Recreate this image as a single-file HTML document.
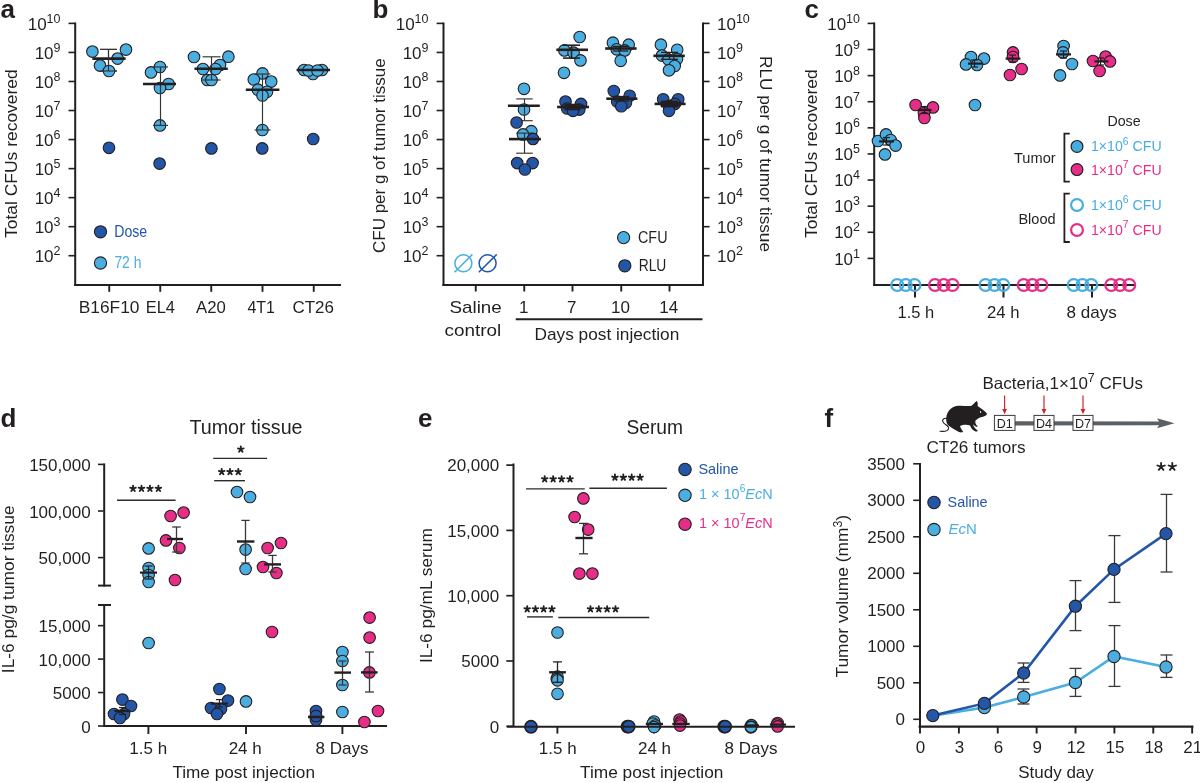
<!DOCTYPE html><html><head><meta charset="utf-8"><style>html,body{margin:0;padding:0;background:#fff;}svg{display:block;font-family:"Liberation Sans",sans-serif;will-change:transform;}</style></head><body>
<svg width="1200" height="783" viewBox="0 0 1200 783">
<rect width="1200" height="783" fill="#fff"/>
<text x="0.5" y="18.3" font-size="26" font-weight="bold" fill="#231f20">a</text>
<line x1="75.2" y1="22.4" x2="75.2" y2="286" stroke="#231f20" stroke-width="2"/>
<line x1="74.2" y1="285" x2="341" y2="285" stroke="#231f20" stroke-width="2.1"/>
<line x1="68.5" y1="255.72" x2="75.2" y2="255.72" stroke="#231f20" stroke-width="1.6"/>
<text x="60.5" y="261.92" font-size="17" text-anchor="end" fill="#231f20">10<tspan dy="-7" font-size="12.5">2</tspan></text>
<line x1="68.5" y1="226.68" x2="75.2" y2="226.68" stroke="#231f20" stroke-width="1.6"/>
<text x="60.5" y="232.88" font-size="17" text-anchor="end" fill="#231f20">10<tspan dy="-7" font-size="12.5">3</tspan></text>
<line x1="68.5" y1="197.64" x2="75.2" y2="197.64" stroke="#231f20" stroke-width="1.6"/>
<text x="60.5" y="203.84" font-size="17" text-anchor="end" fill="#231f20">10<tspan dy="-7" font-size="12.5">4</tspan></text>
<line x1="68.5" y1="168.6" x2="75.2" y2="168.6" stroke="#231f20" stroke-width="1.6"/>
<text x="60.5" y="174.8" font-size="17" text-anchor="end" fill="#231f20">10<tspan dy="-7" font-size="12.5">5</tspan></text>
<line x1="68.5" y1="139.56" x2="75.2" y2="139.56" stroke="#231f20" stroke-width="1.6"/>
<text x="60.5" y="145.76" font-size="17" text-anchor="end" fill="#231f20">10<tspan dy="-7" font-size="12.5">6</tspan></text>
<line x1="68.5" y1="110.52" x2="75.2" y2="110.52" stroke="#231f20" stroke-width="1.6"/>
<text x="60.5" y="116.72" font-size="17" text-anchor="end" fill="#231f20">10<tspan dy="-7" font-size="12.5">7</tspan></text>
<line x1="68.5" y1="81.48" x2="75.2" y2="81.48" stroke="#231f20" stroke-width="1.6"/>
<text x="60.5" y="87.68" font-size="17" text-anchor="end" fill="#231f20">10<tspan dy="-7" font-size="12.5">8</tspan></text>
<line x1="68.5" y1="52.44" x2="75.2" y2="52.44" stroke="#231f20" stroke-width="1.6"/>
<text x="60.5" y="58.64" font-size="17" text-anchor="end" fill="#231f20">10<tspan dy="-7" font-size="12.5">9</tspan></text>
<line x1="68.5" y1="23.4" x2="75.2" y2="23.4" stroke="#231f20" stroke-width="1.6"/>
<text x="60.5" y="29.6" font-size="17" text-anchor="end" fill="#231f20">10<tspan dy="-7" font-size="12.5">10</tspan></text>
<line x1="109.25" y1="285" x2="109.25" y2="291.8" stroke="#231f20" stroke-width="1.9"/>
<line x1="160.25" y1="285" x2="160.25" y2="291.8" stroke="#231f20" stroke-width="1.9"/>
<line x1="211.25" y1="285" x2="211.25" y2="291.8" stroke="#231f20" stroke-width="1.9"/>
<line x1="262.5" y1="285" x2="262.5" y2="291.8" stroke="#231f20" stroke-width="1.9"/>
<line x1="313.75" y1="285" x2="313.75" y2="291.8" stroke="#231f20" stroke-width="1.9"/>
<text x="78.75" y="312.6" font-size="17" fill="#231f20" textLength="60.75" lengthAdjust="spacingAndGlyphs" >B16F10</text>
<text x="145.75" y="312.6" font-size="17" fill="#231f20" textLength="29.25" lengthAdjust="spacingAndGlyphs" >EL4</text>
<text x="196" y="312.6" font-size="17" fill="#231f20" textLength="29.75" lengthAdjust="spacingAndGlyphs" >A20</text>
<text x="247.5" y="312.6" font-size="17" fill="#231f20" textLength="27.5" lengthAdjust="spacingAndGlyphs" >4T1</text>
<text x="292.5" y="312.6" font-size="17" fill="#231f20" textLength="41.5" lengthAdjust="spacingAndGlyphs" >CT26</text>
<text transform="translate(17.2,153.6) rotate(-90)" font-size="17" text-anchor="middle" fill="#231f20" textLength="168.7" lengthAdjust="spacingAndGlyphs">Total CFUs recovered</text>
<line x1="108.5" y1="49.4" x2="108.5" y2="71" stroke="#333" stroke-width="1.15"/>
<line x1="100" y1="49.4" x2="117" y2="49.4" stroke="#333" stroke-width="1.15"/>
<line x1="100" y1="71" x2="117" y2="71" stroke="#333" stroke-width="1.15"/>
<circle cx="92.4" cy="51.6" r="5.8" fill="#4aaee0" stroke="#231f20" stroke-width="1.1"/>
<circle cx="126" cy="49.6" r="5.8" fill="#4aaee0" stroke="#231f20" stroke-width="1.1"/>
<circle cx="100" cy="65.6" r="5.8" fill="#4aaee0" stroke="#231f20" stroke-width="1.1"/>
<circle cx="117.6" cy="58.6" r="5.8" fill="#4aaee0" stroke="#231f20" stroke-width="1.1"/>
<circle cx="109" cy="71" r="5.8" fill="#4aaee0" stroke="#231f20" stroke-width="1.1"/>
<line x1="92.4" y1="58.6" x2="125.6" y2="58.6" stroke="#231f20" stroke-width="2.6"/>
<line x1="108.5" y1="49.4" x2="108.5" y2="71" stroke="#333" stroke-width="1.15"/>
<line x1="100" y1="49.4" x2="117" y2="49.4" stroke="#333" stroke-width="1.15"/>
<line x1="100" y1="71" x2="117" y2="71" stroke="#333" stroke-width="1.15"/>
<circle cx="109" cy="147.8" r="5.8" fill="#2356a7" stroke="#231f20" stroke-width="1.1"/>
<circle cx="151" cy="72.4" r="5.8" fill="#4aaee0" stroke="#231f20" stroke-width="1.1"/>
<circle cx="160" cy="67" r="5.8" fill="#4aaee0" stroke="#231f20" stroke-width="1.1"/>
<circle cx="168.6" cy="84" r="5.8" fill="#4aaee0" stroke="#231f20" stroke-width="1.1"/>
<circle cx="160" cy="88" r="5.8" fill="#4aaee0" stroke="#231f20" stroke-width="1.1"/>
<circle cx="160" cy="125.4" r="5.8" fill="#4aaee0" stroke="#231f20" stroke-width="1.1"/>
<line x1="160.5" y1="67" x2="160.5" y2="125.4" stroke="#333" stroke-width="1.15"/>
<line x1="153" y1="67" x2="168" y2="67" stroke="#333" stroke-width="1.15"/>
<line x1="153" y1="125.4" x2="168" y2="125.4" stroke="#333" stroke-width="1.15"/>
<line x1="143" y1="84" x2="176" y2="84" stroke="#231f20" stroke-width="2.6"/>
<circle cx="159.6" cy="163.6" r="5.8" fill="#2356a7" stroke="#231f20" stroke-width="1.1"/>
<circle cx="194" cy="57" r="5.8" fill="#4aaee0" stroke="#231f20" stroke-width="1.1"/>
<circle cx="228.4" cy="56.7" r="5.8" fill="#4aaee0" stroke="#231f20" stroke-width="1.1"/>
<circle cx="203" cy="69" r="5.8" fill="#4aaee0" stroke="#231f20" stroke-width="1.1"/>
<circle cx="220" cy="65" r="5.8" fill="#4aaee0" stroke="#231f20" stroke-width="1.1"/>
<circle cx="215.5" cy="69" r="5.8" fill="#4aaee0" stroke="#231f20" stroke-width="1.1"/>
<circle cx="207.3" cy="80" r="5.8" fill="#4aaee0" stroke="#231f20" stroke-width="1.1"/>
<circle cx="211.5" cy="80" r="5.8" fill="#4aaee0" stroke="#231f20" stroke-width="1.1"/>
<line x1="211.5" y1="56.8" x2="211.5" y2="80" stroke="#333" stroke-width="1.15"/>
<line x1="202.5" y1="56.8" x2="220.5" y2="56.8" stroke="#333" stroke-width="1.15"/>
<line x1="202.5" y1="80" x2="220.5" y2="80" stroke="#333" stroke-width="1.15"/>
<line x1="194.5" y1="68.8" x2="227.8" y2="68.8" stroke="#231f20" stroke-width="2.6"/>
<circle cx="211.4" cy="148.4" r="5.8" fill="#2356a7" stroke="#231f20" stroke-width="1.1"/>
<circle cx="262.5" cy="73.4" r="5.8" fill="#4aaee0" stroke="#231f20" stroke-width="1.1"/>
<circle cx="253.8" cy="79.5" r="5.8" fill="#4aaee0" stroke="#231f20" stroke-width="1.1"/>
<circle cx="271.2" cy="81.6" r="5.8" fill="#4aaee0" stroke="#231f20" stroke-width="1.1"/>
<circle cx="257.9" cy="89.7" r="5.8" fill="#4aaee0" stroke="#231f20" stroke-width="1.1"/>
<circle cx="267" cy="91.8" r="5.8" fill="#4aaee0" stroke="#231f20" stroke-width="1.1"/>
<circle cx="262.5" cy="95.5" r="5.8" fill="#4aaee0" stroke="#231f20" stroke-width="1.1"/>
<circle cx="262.4" cy="130" r="5.8" fill="#4aaee0" stroke="#231f20" stroke-width="1.1"/>
<line x1="262.5" y1="74" x2="262.5" y2="130" stroke="#333" stroke-width="1.15"/>
<line x1="254.5" y1="74" x2="270.5" y2="74" stroke="#333" stroke-width="1.15"/>
<line x1="254.5" y1="130" x2="270.5" y2="130" stroke="#333" stroke-width="1.15"/>
<line x1="245.8" y1="89.8" x2="279.4" y2="89.8" stroke="#231f20" stroke-width="2.6"/>
<circle cx="262.2" cy="148.4" r="5.8" fill="#2356a7" stroke="#231f20" stroke-width="1.1"/>
<circle cx="304" cy="70" r="5.8" fill="#4aaee0" stroke="#231f20" stroke-width="1.1"/>
<circle cx="322" cy="70" r="5.8" fill="#4aaee0" stroke="#231f20" stroke-width="1.1"/>
<circle cx="313" cy="74" r="5.8" fill="#4aaee0" stroke="#231f20" stroke-width="1.1"/>
<circle cx="308.5" cy="70.5" r="5.8" fill="#4aaee0" stroke="#231f20" stroke-width="1.1"/>
<circle cx="317.5" cy="70.5" r="5.8" fill="#4aaee0" stroke="#231f20" stroke-width="1.1"/>
<line x1="296.6" y1="70" x2="330" y2="70" stroke="#231f20" stroke-width="2.6"/>
<circle cx="313.2" cy="139" r="5.8" fill="#2356a7" stroke="#231f20" stroke-width="1.1"/>
<circle cx="100.5" cy="231.8" r="6.1" fill="#2356a7" stroke="#231f20" stroke-width="1.1"/>
<text x="114.2" y="237" font-size="16" fill="#2356a7" textLength="33" lengthAdjust="spacingAndGlyphs" >Dose</text>
<circle cx="100.5" cy="263" r="6.1" fill="#4aaee0" stroke="#231f20" stroke-width="1.1"/>
<text x="114.4" y="267.8" font-size="16" fill="#4aaee0" textLength="27" lengthAdjust="spacingAndGlyphs" >72 h</text>
<text x="372.5" y="18.3" font-size="26" font-weight="bold" fill="#231f20">b</text>
<line x1="443.5" y1="22.4" x2="443.5" y2="286" stroke="#231f20" stroke-width="2"/>
<line x1="442.5" y1="285" x2="704" y2="285" stroke="#231f20" stroke-width="2.1"/>
<line x1="703" y1="22.4" x2="703" y2="286" stroke="#231f20" stroke-width="2"/>
<line x1="436.6" y1="255.72" x2="443.5" y2="255.72" stroke="#231f20" stroke-width="1.6"/>
<line x1="703" y1="255.72" x2="709.6" y2="255.72" stroke="#231f20" stroke-width="1.6"/>
<text x="428.5" y="261.92" font-size="17" text-anchor="end" fill="#231f20">10<tspan dy="-7" font-size="12.5">2</tspan></text>
<text x="717" y="261.92" font-size="17" text-anchor="start" fill="#231f20">10<tspan dy="-7" font-size="12.5">2</tspan></text>
<line x1="436.6" y1="226.68" x2="443.5" y2="226.68" stroke="#231f20" stroke-width="1.6"/>
<line x1="703" y1="226.68" x2="709.6" y2="226.68" stroke="#231f20" stroke-width="1.6"/>
<text x="428.5" y="232.88" font-size="17" text-anchor="end" fill="#231f20">10<tspan dy="-7" font-size="12.5">3</tspan></text>
<text x="717" y="232.88" font-size="17" text-anchor="start" fill="#231f20">10<tspan dy="-7" font-size="12.5">3</tspan></text>
<line x1="436.6" y1="197.64" x2="443.5" y2="197.64" stroke="#231f20" stroke-width="1.6"/>
<line x1="703" y1="197.64" x2="709.6" y2="197.64" stroke="#231f20" stroke-width="1.6"/>
<text x="428.5" y="203.84" font-size="17" text-anchor="end" fill="#231f20">10<tspan dy="-7" font-size="12.5">4</tspan></text>
<text x="717" y="203.84" font-size="17" text-anchor="start" fill="#231f20">10<tspan dy="-7" font-size="12.5">4</tspan></text>
<line x1="436.6" y1="168.6" x2="443.5" y2="168.6" stroke="#231f20" stroke-width="1.6"/>
<line x1="703" y1="168.6" x2="709.6" y2="168.6" stroke="#231f20" stroke-width="1.6"/>
<text x="428.5" y="174.8" font-size="17" text-anchor="end" fill="#231f20">10<tspan dy="-7" font-size="12.5">5</tspan></text>
<text x="717" y="174.8" font-size="17" text-anchor="start" fill="#231f20">10<tspan dy="-7" font-size="12.5">5</tspan></text>
<line x1="436.6" y1="139.56" x2="443.5" y2="139.56" stroke="#231f20" stroke-width="1.6"/>
<line x1="703" y1="139.56" x2="709.6" y2="139.56" stroke="#231f20" stroke-width="1.6"/>
<text x="428.5" y="145.76" font-size="17" text-anchor="end" fill="#231f20">10<tspan dy="-7" font-size="12.5">6</tspan></text>
<text x="717" y="145.76" font-size="17" text-anchor="start" fill="#231f20">10<tspan dy="-7" font-size="12.5">6</tspan></text>
<line x1="436.6" y1="110.52" x2="443.5" y2="110.52" stroke="#231f20" stroke-width="1.6"/>
<line x1="703" y1="110.52" x2="709.6" y2="110.52" stroke="#231f20" stroke-width="1.6"/>
<text x="428.5" y="116.72" font-size="17" text-anchor="end" fill="#231f20">10<tspan dy="-7" font-size="12.5">7</tspan></text>
<text x="717" y="116.72" font-size="17" text-anchor="start" fill="#231f20">10<tspan dy="-7" font-size="12.5">7</tspan></text>
<line x1="436.6" y1="81.48" x2="443.5" y2="81.48" stroke="#231f20" stroke-width="1.6"/>
<line x1="703" y1="81.48" x2="709.6" y2="81.48" stroke="#231f20" stroke-width="1.6"/>
<text x="428.5" y="87.68" font-size="17" text-anchor="end" fill="#231f20">10<tspan dy="-7" font-size="12.5">8</tspan></text>
<text x="717" y="87.68" font-size="17" text-anchor="start" fill="#231f20">10<tspan dy="-7" font-size="12.5">8</tspan></text>
<line x1="436.6" y1="52.44" x2="443.5" y2="52.44" stroke="#231f20" stroke-width="1.6"/>
<line x1="703" y1="52.44" x2="709.6" y2="52.44" stroke="#231f20" stroke-width="1.6"/>
<text x="428.5" y="58.64" font-size="17" text-anchor="end" fill="#231f20">10<tspan dy="-7" font-size="12.5">9</tspan></text>
<text x="717" y="58.64" font-size="17" text-anchor="start" fill="#231f20">10<tspan dy="-7" font-size="12.5">9</tspan></text>
<line x1="436.6" y1="23.4" x2="443.5" y2="23.4" stroke="#231f20" stroke-width="1.6"/>
<line x1="703" y1="23.4" x2="709.6" y2="23.4" stroke="#231f20" stroke-width="1.6"/>
<text x="428.5" y="29.6" font-size="17" text-anchor="end" fill="#231f20">10<tspan dy="-7" font-size="12.5">10</tspan></text>
<text x="717" y="29.6" font-size="17" text-anchor="start" fill="#231f20">10<tspan dy="-7" font-size="12.5">10</tspan></text>
<line x1="475.75" y1="285" x2="475.75" y2="291.5" stroke="#231f20" stroke-width="1.9"/>
<line x1="524.25" y1="285" x2="524.25" y2="291.5" stroke="#231f20" stroke-width="1.9"/>
<line x1="572.5" y1="285" x2="572.5" y2="291.5" stroke="#231f20" stroke-width="1.9"/>
<line x1="621.25" y1="285" x2="621.25" y2="291.5" stroke="#231f20" stroke-width="1.9"/>
<line x1="669.5" y1="285" x2="669.5" y2="291.5" stroke="#231f20" stroke-width="1.9"/>
<text x="449.5" y="313" font-size="17" fill="#231f20" textLength="52.25" lengthAdjust="spacingAndGlyphs" >Saline</text>
<text x="444.5" y="336.3" font-size="17" fill="#231f20" textLength="56.75" lengthAdjust="spacingAndGlyphs" >control</text>
<text x="523.75" y="313" font-size="17" text-anchor="middle" fill="#231f20" >1</text>
<text x="571.75" y="313" font-size="17" text-anchor="middle" fill="#231f20" >7</text>
<text x="620.5" y="313" font-size="17" text-anchor="middle" fill="#231f20" >10</text>
<text x="668.75" y="313" font-size="17" text-anchor="middle" fill="#231f20" >14</text>
<line x1="515.75" y1="319.25" x2="702.5" y2="319.25" stroke="#231f20" stroke-width="2"/>
<text x="534.5" y="339.5" font-size="17" fill="#231f20" textLength="144.75" lengthAdjust="spacingAndGlyphs" >Days post injection</text>
<text transform="translate(384.6,155.7) rotate(-90)" font-size="17" text-anchor="middle" fill="#231f20" textLength="194.6" lengthAdjust="spacingAndGlyphs">CFU per g of tumor tissue</text>
<text transform="translate(759.8,154) rotate(90)" font-size="17" text-anchor="middle" fill="#231f20" textLength="196" lengthAdjust="spacingAndGlyphs">RLU per g of tumor tissue</text>
<circle cx="463.4" cy="263.3" r="8.5" fill="none" stroke="#4aaee0" stroke-width="1.5"/>
<line x1="454.5" y1="272.3" x2="472.4" y2="254.4" stroke="#4aaee0" stroke-width="1.5"/>
<circle cx="487.6" cy="263.3" r="8.5" fill="none" stroke="#2356a7" stroke-width="1.5"/>
<line x1="478.8" y1="272.3" x2="496.7" y2="254.4" stroke="#2356a7" stroke-width="1.5"/>
<circle cx="524" cy="88.8" r="5.8" fill="#4aaee0" stroke="#231f20" stroke-width="1.1"/>
<circle cx="524" cy="109.5" r="5.8" fill="#4aaee0" stroke="#231f20" stroke-width="1.1"/>
<line x1="524.5" y1="98.9" x2="524.5" y2="120.7" stroke="#333" stroke-width="1.15"/>
<line x1="516.3" y1="98.9" x2="532.7" y2="98.9" stroke="#333" stroke-width="1.15"/>
<line x1="516.3" y1="120.7" x2="532.7" y2="120.7" stroke="#333" stroke-width="1.15"/>
<line x1="507.9" y1="105.7" x2="539.8" y2="105.7" stroke="#231f20" stroke-width="2.6"/>
<circle cx="516.6" cy="122.5" r="5.8" fill="#2356a7" stroke="#231f20" stroke-width="1.1"/>
<circle cx="531.3" cy="131.2" r="5.8" fill="#4aaee0" stroke="#231f20" stroke-width="1.1"/>
<circle cx="523" cy="134.4" r="5.8" fill="#4aaee0" stroke="#231f20" stroke-width="1.1"/>
<line x1="524.5" y1="133.1" x2="524.5" y2="153.2" stroke="#333" stroke-width="1.15"/>
<line x1="516.2" y1="133.1" x2="532.8" y2="133.1" stroke="#333" stroke-width="1.15"/>
<line x1="516.2" y1="153.2" x2="532.8" y2="153.2" stroke="#333" stroke-width="1.15"/>
<circle cx="533" cy="138.9" r="5.8" fill="#2356a7" stroke="#231f20" stroke-width="1.1"/>
<line x1="509" y1="139.1" x2="540.9" y2="139.1" stroke="#231f20" stroke-width="2.6"/>
<circle cx="517.2" cy="163.1" r="5.8" fill="#2356a7" stroke="#231f20" stroke-width="1.1"/>
<circle cx="532.6" cy="163.1" r="5.8" fill="#2356a7" stroke="#231f20" stroke-width="1.1"/>
<circle cx="524.9" cy="169.5" r="5.8" fill="#2356a7" stroke="#231f20" stroke-width="1.1"/>
<circle cx="579.7" cy="37" r="5.8" fill="#4aaee0" stroke="#231f20" stroke-width="1.1"/>
<circle cx="564.4" cy="50.4" r="5.8" fill="#4aaee0" stroke="#231f20" stroke-width="1.1"/>
<circle cx="573.6" cy="52.7" r="5.8" fill="#4aaee0" stroke="#231f20" stroke-width="1.1"/>
<circle cx="580.5" cy="60.4" r="5.8" fill="#4aaee0" stroke="#231f20" stroke-width="1.1"/>
<circle cx="564" cy="72.8" r="5.8" fill="#4aaee0" stroke="#231f20" stroke-width="1.1"/>
<line x1="571.5" y1="45.2" x2="571.5" y2="58.1" stroke="#231f20" stroke-width="1.6"/>
<line x1="563" y1="45.2" x2="580" y2="45.2" stroke="#231f20" stroke-width="1.6"/>
<line x1="563" y1="58.1" x2="580" y2="58.1" stroke="#231f20" stroke-width="1.6"/>
<line x1="556.3" y1="49.8" x2="588" y2="49.8" stroke="#231f20" stroke-width="2.6"/>
<circle cx="565.5" cy="101.6" r="5.8" fill="#2356a7" stroke="#231f20" stroke-width="1.1"/>
<circle cx="581" cy="103.9" r="5.8" fill="#2356a7" stroke="#231f20" stroke-width="1.1"/>
<circle cx="567.2" cy="108.5" r="5.8" fill="#2356a7" stroke="#231f20" stroke-width="1.1"/>
<circle cx="579.3" cy="109.6" r="5.8" fill="#2356a7" stroke="#231f20" stroke-width="1.1"/>
<circle cx="573" cy="110.8" r="5.8" fill="#2356a7" stroke="#231f20" stroke-width="1.1"/>
<line x1="572.5" y1="104.5" x2="572.5" y2="109.5" stroke="#231f20" stroke-width="1.6"/>
<line x1="564.5" y1="104.5" x2="580.5" y2="104.5" stroke="#231f20" stroke-width="1.6"/>
<line x1="564.5" y1="109.5" x2="580.5" y2="109.5" stroke="#231f20" stroke-width="1.6"/>
<rect x="563.5" y="105.3" width="21" height="3.4" fill="#231f20"/>
<line x1="557.1" y1="107" x2="589" y2="107" stroke="#231f20" stroke-width="2.6"/>
<circle cx="612.9" cy="42.7" r="5.8" fill="#4aaee0" stroke="#231f20" stroke-width="1.1"/>
<circle cx="628.7" cy="44.7" r="5.8" fill="#4aaee0" stroke="#231f20" stroke-width="1.1"/>
<circle cx="616.7" cy="49.3" r="5.8" fill="#4aaee0" stroke="#231f20" stroke-width="1.1"/>
<circle cx="624.7" cy="50.4" r="5.8" fill="#4aaee0" stroke="#231f20" stroke-width="1.1"/>
<circle cx="620.7" cy="60.8" r="5.8" fill="#4aaee0" stroke="#231f20" stroke-width="1.1"/>
<line x1="620.5" y1="46.4" x2="620.5" y2="51" stroke="#231f20" stroke-width="1.3"/>
<line x1="612.7" y1="46.4" x2="628.3" y2="46.4" stroke="#231f20" stroke-width="1.3"/>
<line x1="612.7" y1="51" x2="628.3" y2="51" stroke="#231f20" stroke-width="1.3"/>
<line x1="605.2" y1="48.5" x2="636.6" y2="48.5" stroke="#231f20" stroke-width="2.6"/>
<circle cx="613.8" cy="91" r="5.8" fill="#2356a7" stroke="#231f20" stroke-width="1.1"/>
<circle cx="629.7" cy="95.8" r="5.8" fill="#2356a7" stroke="#231f20" stroke-width="1.1"/>
<circle cx="617.2" cy="101.6" r="5.8" fill="#2356a7" stroke="#231f20" stroke-width="1.1"/>
<circle cx="625.9" cy="102.7" r="5.8" fill="#2356a7" stroke="#231f20" stroke-width="1.1"/>
<circle cx="621.3" cy="106.2" r="5.8" fill="#2356a7" stroke="#231f20" stroke-width="1.1"/>
<line x1="621.5" y1="96.5" x2="621.5" y2="101" stroke="#231f20" stroke-width="1.3"/>
<line x1="613.7" y1="96.5" x2="629.3" y2="96.5" stroke="#231f20" stroke-width="1.3"/>
<line x1="613.7" y1="101" x2="629.3" y2="101" stroke="#231f20" stroke-width="1.3"/>
<line x1="606.3" y1="98.7" x2="637.4" y2="98.7" stroke="#231f20" stroke-width="2.6"/>
<circle cx="660.9" cy="44.7" r="5.8" fill="#4aaee0" stroke="#231f20" stroke-width="1.1"/>
<circle cx="677.2" cy="49.8" r="5.8" fill="#4aaee0" stroke="#231f20" stroke-width="1.1"/>
<circle cx="662" cy="55.6" r="5.8" fill="#4aaee0" stroke="#231f20" stroke-width="1.1"/>
<circle cx="677" cy="59" r="5.8" fill="#4aaee0" stroke="#231f20" stroke-width="1.1"/>
<circle cx="668.4" cy="59.6" r="5.8" fill="#4aaee0" stroke="#231f20" stroke-width="1.1"/>
<circle cx="674.7" cy="66" r="5.8" fill="#4aaee0" stroke="#231f20" stroke-width="1.1"/>
<circle cx="669" cy="70.3" r="5.8" fill="#4aaee0" stroke="#231f20" stroke-width="1.1"/>
<line x1="669.5" y1="52.4" x2="669.5" y2="59.3" stroke="#231f20" stroke-width="1.3"/>
<line x1="661" y1="52.4" x2="678" y2="52.4" stroke="#231f20" stroke-width="1.3"/>
<line x1="661" y1="59.3" x2="678" y2="59.3" stroke="#231f20" stroke-width="1.3"/>
<line x1="653.4" y1="55.8" x2="684.8" y2="55.8" stroke="#231f20" stroke-width="2.6"/>
<circle cx="663.2" cy="99.3" r="5.8" fill="#2356a7" stroke="#231f20" stroke-width="1.1"/>
<circle cx="678.2" cy="99.3" r="5.8" fill="#2356a7" stroke="#231f20" stroke-width="1.1"/>
<circle cx="674.7" cy="103.9" r="5.8" fill="#2356a7" stroke="#231f20" stroke-width="1.1"/>
<circle cx="669" cy="106.2" r="5.8" fill="#2356a7" stroke="#231f20" stroke-width="1.1"/>
<circle cx="669" cy="110.8" r="5.8" fill="#2356a7" stroke="#231f20" stroke-width="1.1"/>
<line x1="669.5" y1="101.5" x2="669.5" y2="106.5" stroke="#231f20" stroke-width="1.8"/>
<line x1="661" y1="101.5" x2="678" y2="101.5" stroke="#231f20" stroke-width="1.8"/>
<line x1="661" y1="106.5" x2="678" y2="106.5" stroke="#231f20" stroke-width="1.8"/>
<rect x="660.5" y="101.8" width="20.5" height="4.6" fill="#231f20"/>
<line x1="654.6" y1="103.9" x2="685.6" y2="103.9" stroke="#231f20" stroke-width="2.6"/>
<circle cx="623.6" cy="237.6" r="6.1" fill="#4aaee0" stroke="#231f20" stroke-width="1.1"/>
<text x="638" y="242.6" font-size="16" fill="#231f20" textLength="29.5" lengthAdjust="spacingAndGlyphs" >CFU</text>
<circle cx="624.8" cy="265.8" r="6.1" fill="#2356a7" stroke="#231f20" stroke-width="1.1"/>
<text x="638.7" y="270.8" font-size="16" fill="#231f20" textLength="27.6" lengthAdjust="spacingAndGlyphs" >RLU</text>
<text x="804.5" y="18.3" font-size="26" font-weight="bold" fill="#231f20">c</text>
<line x1="874.2" y1="22.4" x2="874.2" y2="286" stroke="#231f20" stroke-width="2"/>
<line x1="873.2" y1="285" x2="1135" y2="285" stroke="#231f20" stroke-width="2.1"/>
<line x1="867.6" y1="258.39" x2="874.2" y2="258.39" stroke="#231f20" stroke-width="1.6"/>
<text x="860" y="264.59" font-size="17" text-anchor="end" fill="#231f20">10<tspan dy="-7" font-size="12.5">1</tspan></text>
<line x1="867.6" y1="232.28" x2="874.2" y2="232.28" stroke="#231f20" stroke-width="1.6"/>
<text x="860" y="238.48" font-size="17" text-anchor="end" fill="#231f20">10<tspan dy="-7" font-size="12.5">2</tspan></text>
<line x1="867.6" y1="206.17" x2="874.2" y2="206.17" stroke="#231f20" stroke-width="1.6"/>
<text x="860" y="212.37" font-size="17" text-anchor="end" fill="#231f20">10<tspan dy="-7" font-size="12.5">3</tspan></text>
<line x1="867.6" y1="180.06" x2="874.2" y2="180.06" stroke="#231f20" stroke-width="1.6"/>
<text x="860" y="186.26" font-size="17" text-anchor="end" fill="#231f20">10<tspan dy="-7" font-size="12.5">4</tspan></text>
<line x1="867.6" y1="153.95" x2="874.2" y2="153.95" stroke="#231f20" stroke-width="1.6"/>
<text x="860" y="160.15" font-size="17" text-anchor="end" fill="#231f20">10<tspan dy="-7" font-size="12.5">5</tspan></text>
<line x1="867.6" y1="127.84" x2="874.2" y2="127.84" stroke="#231f20" stroke-width="1.6"/>
<text x="860" y="134.04" font-size="17" text-anchor="end" fill="#231f20">10<tspan dy="-7" font-size="12.5">6</tspan></text>
<line x1="867.6" y1="101.73" x2="874.2" y2="101.73" stroke="#231f20" stroke-width="1.6"/>
<text x="860" y="107.93" font-size="17" text-anchor="end" fill="#231f20">10<tspan dy="-7" font-size="12.5">7</tspan></text>
<line x1="867.6" y1="75.62" x2="874.2" y2="75.62" stroke="#231f20" stroke-width="1.6"/>
<text x="860" y="81.82" font-size="17" text-anchor="end" fill="#231f20">10<tspan dy="-7" font-size="12.5">8</tspan></text>
<line x1="867.6" y1="49.51" x2="874.2" y2="49.51" stroke="#231f20" stroke-width="1.6"/>
<text x="860" y="55.71" font-size="17" text-anchor="end" fill="#231f20">10<tspan dy="-7" font-size="12.5">9</tspan></text>
<line x1="867.6" y1="23.4" x2="874.2" y2="23.4" stroke="#231f20" stroke-width="1.6"/>
<text x="860" y="29.6" font-size="17" text-anchor="end" fill="#231f20">10<tspan dy="-7" font-size="12.5">10</tspan></text>
<line x1="915" y1="285" x2="915" y2="297.5" stroke="#231f20" stroke-width="2"/>
<line x1="1003.5" y1="285" x2="1003.5" y2="297.5" stroke="#231f20" stroke-width="2"/>
<line x1="1092" y1="285" x2="1092" y2="297.5" stroke="#231f20" stroke-width="2"/>
<text x="897.5" y="317.6" font-size="17" fill="#231f20" textLength="36.75" lengthAdjust="spacingAndGlyphs" >1.5 h</text>
<text x="987" y="317.6" font-size="17" fill="#231f20" textLength="32.5" lengthAdjust="spacingAndGlyphs" >24 h</text>
<text x="1066.5" y="317.6" font-size="17" fill="#231f20" textLength="50.25" lengthAdjust="spacingAndGlyphs" >8 days</text>
<text transform="translate(817.2,153.6) rotate(-90)" font-size="17" text-anchor="middle" fill="#231f20" textLength="168.7" lengthAdjust="spacingAndGlyphs">Total CFUs recovered</text>
<circle cx="878" cy="141" r="5.8" fill="#47ade1" stroke="#231f20" stroke-width="1.1"/>
<circle cx="886" cy="134.4" r="5.8" fill="#47ade1" stroke="#231f20" stroke-width="1.1"/>
<circle cx="890.6" cy="140" r="5.8" fill="#47ade1" stroke="#231f20" stroke-width="1.1"/>
<circle cx="895.6" cy="145.6" r="5.8" fill="#47ade1" stroke="#231f20" stroke-width="1.1"/>
<circle cx="885" cy="154.4" r="5.8" fill="#47ade1" stroke="#231f20" stroke-width="1.1"/>
<line x1="879" y1="141.4" x2="894" y2="141.4" stroke="#231f20" stroke-width="2.2"/>
<line x1="886.5" y1="137.5" x2="886.5" y2="145" stroke="#231f20" stroke-width="1.2"/>
<line x1="883" y1="137.5" x2="890" y2="137.5" stroke="#231f20" stroke-width="1.2"/>
<line x1="883" y1="145" x2="890" y2="145" stroke="#231f20" stroke-width="1.2"/>
<circle cx="915.6" cy="105" r="5.8" fill="#e72d87" stroke="#231f20" stroke-width="1.1"/>
<circle cx="933" cy="107.4" r="5.8" fill="#e72d87" stroke="#231f20" stroke-width="1.1"/>
<circle cx="924" cy="113" r="5.8" fill="#e72d87" stroke="#231f20" stroke-width="1.1"/>
<circle cx="924.4" cy="118" r="5.8" fill="#e72d87" stroke="#231f20" stroke-width="1.1"/>
<line x1="918" y1="110" x2="931.6" y2="110" stroke="#231f20" stroke-width="2.2"/>
<line x1="924.5" y1="106.5" x2="924.5" y2="113.5" stroke="#231f20" stroke-width="1.2"/>
<line x1="921" y1="106.5" x2="928" y2="106.5" stroke="#231f20" stroke-width="1.2"/>
<line x1="921" y1="113.5" x2="928" y2="113.5" stroke="#231f20" stroke-width="1.2"/>
<circle cx="971" cy="57" r="5.8" fill="#47ade1" stroke="#231f20" stroke-width="1.1"/>
<circle cx="984" cy="58.6" r="5.8" fill="#47ade1" stroke="#231f20" stroke-width="1.1"/>
<circle cx="966" cy="64.4" r="5.8" fill="#47ade1" stroke="#231f20" stroke-width="1.1"/>
<circle cx="977" cy="65" r="5.8" fill="#47ade1" stroke="#231f20" stroke-width="1.1"/>
<circle cx="975" cy="105" r="5.8" fill="#47ade1" stroke="#231f20" stroke-width="1.1"/>
<line x1="968" y1="63.6" x2="982.4" y2="63.6" stroke="#231f20" stroke-width="2.2"/>
<line x1="974.5" y1="60" x2="974.5" y2="67" stroke="#231f20" stroke-width="1.2"/>
<line x1="971" y1="60" x2="978" y2="60" stroke="#231f20" stroke-width="1.2"/>
<line x1="971" y1="67" x2="978" y2="67" stroke="#231f20" stroke-width="1.2"/>
<circle cx="1013" cy="52.4" r="5.8" fill="#e72d87" stroke="#231f20" stroke-width="1.1"/>
<circle cx="1013" cy="57" r="5.8" fill="#e72d87" stroke="#231f20" stroke-width="1.1"/>
<circle cx="1021.6" cy="69" r="5.8" fill="#e72d87" stroke="#231f20" stroke-width="1.1"/>
<circle cx="1010" cy="75" r="5.8" fill="#e72d87" stroke="#231f20" stroke-width="1.1"/>
<line x1="1005.6" y1="58.6" x2="1020.4" y2="58.6" stroke="#231f20" stroke-width="2.2"/>
<line x1="1012.5" y1="55" x2="1012.5" y2="62" stroke="#231f20" stroke-width="1.2"/>
<line x1="1009" y1="55" x2="1016" y2="55" stroke="#231f20" stroke-width="1.2"/>
<line x1="1009" y1="62" x2="1016" y2="62" stroke="#231f20" stroke-width="1.2"/>
<circle cx="1063.6" cy="46" r="5.8" fill="#47ade1" stroke="#231f20" stroke-width="1.1"/>
<circle cx="1063" cy="52.4" r="5.8" fill="#47ade1" stroke="#231f20" stroke-width="1.1"/>
<circle cx="1072" cy="64" r="5.8" fill="#47ade1" stroke="#231f20" stroke-width="1.1"/>
<circle cx="1060" cy="75.4" r="5.8" fill="#47ade1" stroke="#231f20" stroke-width="1.1"/>
<line x1="1056" y1="54.4" x2="1071" y2="54.4" stroke="#231f20" stroke-width="2.2"/>
<line x1="1063.5" y1="51" x2="1063.5" y2="58" stroke="#231f20" stroke-width="1.2"/>
<line x1="1060" y1="51" x2="1067" y2="51" stroke="#231f20" stroke-width="1.2"/>
<line x1="1060" y1="58" x2="1067" y2="58" stroke="#231f20" stroke-width="1.2"/>
<circle cx="1093" cy="61" r="5.8" fill="#e72d87" stroke="#231f20" stroke-width="1.1"/>
<circle cx="1105.6" cy="56.6" r="5.8" fill="#e72d87" stroke="#231f20" stroke-width="1.1"/>
<circle cx="1110" cy="61.4" r="5.8" fill="#e72d87" stroke="#231f20" stroke-width="1.1"/>
<circle cx="1099.6" cy="71" r="5.8" fill="#e72d87" stroke="#231f20" stroke-width="1.1"/>
<line x1="1094.4" y1="61.4" x2="1108.4" y2="61.4" stroke="#231f20" stroke-width="2.2"/>
<line x1="1100.5" y1="58" x2="1100.5" y2="65" stroke="#231f20" stroke-width="1.2"/>
<line x1="1097" y1="58" x2="1104" y2="58" stroke="#231f20" stroke-width="1.2"/>
<line x1="1097" y1="65" x2="1104" y2="65" stroke="#231f20" stroke-width="1.2"/>
<circle cx="897.25" cy="285" r="5.95" fill="none" stroke="#47ade1" stroke-width="2.2"/>
<circle cx="905.75" cy="285" r="5.95" fill="none" stroke="#47ade1" stroke-width="2.2"/>
<circle cx="914.5" cy="285" r="5.95" fill="none" stroke="#47ade1" stroke-width="2.2"/>
<circle cx="985.5" cy="285" r="5.95" fill="none" stroke="#47ade1" stroke-width="2.2"/>
<circle cx="994.5" cy="285" r="5.95" fill="none" stroke="#47ade1" stroke-width="2.2"/>
<circle cx="1003.25" cy="285" r="5.95" fill="none" stroke="#47ade1" stroke-width="2.2"/>
<circle cx="1073.75" cy="285" r="5.95" fill="none" stroke="#47ade1" stroke-width="2.2"/>
<circle cx="1082.5" cy="285" r="5.95" fill="none" stroke="#47ade1" stroke-width="2.2"/>
<circle cx="1091.25" cy="285" r="5.95" fill="none" stroke="#47ade1" stroke-width="2.2"/>
<circle cx="935" cy="285" r="5.95" fill="none" stroke="#e72d87" stroke-width="2.2"/>
<circle cx="943.75" cy="285" r="5.95" fill="none" stroke="#e72d87" stroke-width="2.2"/>
<circle cx="952.5" cy="285" r="5.95" fill="none" stroke="#e72d87" stroke-width="2.2"/>
<circle cx="1023.75" cy="285" r="5.95" fill="none" stroke="#e72d87" stroke-width="2.2"/>
<circle cx="1032.5" cy="285" r="5.95" fill="none" stroke="#e72d87" stroke-width="2.2"/>
<circle cx="1041.25" cy="285" r="5.95" fill="none" stroke="#e72d87" stroke-width="2.2"/>
<circle cx="1111.25" cy="285" r="5.95" fill="none" stroke="#e72d87" stroke-width="2.2"/>
<circle cx="1120" cy="285" r="5.95" fill="none" stroke="#e72d87" stroke-width="2.2"/>
<circle cx="1129.25" cy="285" r="5.95" fill="none" stroke="#e72d87" stroke-width="2.2"/>
<text x="1107.4" y="125.6" font-size="15" fill="#231f20" textLength="33.2" lengthAdjust="spacingAndGlyphs" >Dose</text>
<text x="1014" y="163" font-size="15" fill="#231f20" textLength="41.6" lengthAdjust="spacingAndGlyphs" >Tumor</text>
<text x="1018.4" y="223.6" font-size="15" fill="#231f20" textLength="37.2" lengthAdjust="spacingAndGlyphs" >Blood</text>
<path d="M1069.8 133.6 H1064.4 V181.6 H1069.8" fill="none" stroke="#231f20" stroke-width="1.8"/>
<path d="M1069.8 193.6 H1064.4 V242 H1069.8" fill="none" stroke="#231f20" stroke-width="1.8"/>
<circle cx="1077" cy="146.4" r="5.9" fill="#47ade1" stroke="#231f20" stroke-width="1.2"/>
<circle cx="1077" cy="169.6" r="5.9" fill="#e72d87" stroke="#231f20" stroke-width="1.2"/>
<circle cx="1077" cy="205" r="5.9" fill="none" stroke="#47ade1" stroke-width="2.2"/>
<circle cx="1077" cy="230" r="5.9" fill="none" stroke="#e72d87" stroke-width="2.2"/>
<text x="1091" y="151" font-size="15" fill="#47ade1" textLength="70.6" lengthAdjust="spacingAndGlyphs">1×10<tspan dy="-6.5" font-size="11">6</tspan><tspan dy="6.5"> CFU</tspan></text>
<text x="1091" y="174.6" font-size="15" fill="#e72d87" textLength="70.6" lengthAdjust="spacingAndGlyphs">1×10<tspan dy="-6.5" font-size="11">7</tspan><tspan dy="6.5"> CFU</tspan></text>
<text x="1091" y="209.6" font-size="15" fill="#47ade1" textLength="70.6" lengthAdjust="spacingAndGlyphs">1×10<tspan dy="-6.5" font-size="11">6</tspan><tspan dy="6.5"> CFU</tspan></text>
<text x="1091" y="234.6" font-size="15" fill="#e72d87" textLength="70.6" lengthAdjust="spacingAndGlyphs">1×10<tspan dy="-6.5" font-size="11">7</tspan><tspan dy="6.5"> CFU</tspan></text>
<text x="0.5" y="427" font-size="26" font-weight="bold" fill="#231f20">d</text>
<text x="189.4" y="434" font-size="19.5" fill="#231f20" textLength="113.2" lengthAdjust="spacingAndGlyphs" >Tumor tissue</text>
<line x1="104.2" y1="463.4" x2="104.2" y2="586.5" stroke="#231f20" stroke-width="2"/>
<line x1="98" y1="585.6" x2="111" y2="585.6" stroke="#231f20" stroke-width="2"/>
<line x1="104.2" y1="604.2" x2="104.2" y2="727" stroke="#231f20" stroke-width="2"/>
<line x1="98" y1="605" x2="111" y2="605" stroke="#231f20" stroke-width="2"/>
<line x1="98" y1="464.4" x2="103.6" y2="464.4" stroke="#231f20" stroke-width="1.6"/>
<text x="90.6" y="471" font-size="17" text-anchor="end" fill="#231f20" >150,000</text>
<line x1="98" y1="511" x2="103.6" y2="511" stroke="#231f20" stroke-width="1.6"/>
<text x="90.6" y="517.6" font-size="17" text-anchor="end" fill="#231f20" >100,000</text>
<line x1="98" y1="557.6" x2="103.6" y2="557.6" stroke="#231f20" stroke-width="1.6"/>
<text x="90.6" y="564.2" font-size="17" text-anchor="end" fill="#231f20" >50,000</text>
<line x1="98" y1="625.65" x2="103.6" y2="625.65" stroke="#231f20" stroke-width="1.6"/>
<text x="90.6" y="632.25" font-size="17" text-anchor="end" fill="#231f20" >15,000</text>
<line x1="98" y1="659.1" x2="103.6" y2="659.1" stroke="#231f20" stroke-width="1.6"/>
<text x="90.6" y="665.7" font-size="17" text-anchor="end" fill="#231f20" >10,000</text>
<line x1="98" y1="692.55" x2="103.6" y2="692.55" stroke="#231f20" stroke-width="1.6"/>
<text x="90.6" y="699.15" font-size="17" text-anchor="end" fill="#231f20" >5000</text>
<line x1="98" y1="726" x2="103.6" y2="726" stroke="#231f20" stroke-width="1.6"/>
<text x="90.6" y="732.6" font-size="17" text-anchor="end" fill="#231f20" >0</text>
<line x1="103.2" y1="726.1" x2="387" y2="726.1" stroke="#231f20" stroke-width="2"/>
<line x1="148.4" y1="726" x2="148.4" y2="734" stroke="#231f20" stroke-width="1.9"/>
<line x1="246" y1="726" x2="246" y2="734" stroke="#231f20" stroke-width="1.9"/>
<line x1="342.4" y1="726" x2="342.4" y2="734" stroke="#231f20" stroke-width="1.9"/>
<text x="148.2" y="753.8" font-size="17" text-anchor="middle" fill="#231f20" >1.5 h</text>
<text x="245.2" y="753.8" font-size="17" text-anchor="middle" fill="#231f20" >24 h</text>
<text x="342" y="753.8" font-size="17" text-anchor="middle" fill="#231f20" >8 Days</text>
<text x="172.4" y="778.1" font-size="17" fill="#231f20" textLength="142.6" lengthAdjust="spacingAndGlyphs" >Time post injection</text>
<text transform="translate(14.2,589.3) rotate(-90)" font-size="17" text-anchor="middle" fill="#231f20" textLength="167.7" lengthAdjust="spacingAndGlyphs">IL-6 pg/g tumor tissue</text>
<path d="M133.05 488.58 L133.05 485.65 M133.05 488.58 L135.84 487.67 M133.05 488.58 L134.77 490.95 M133.05 488.58 L131.33 490.95 M133.05 488.58 L130.26 487.67 " stroke="#231f20" stroke-width="1.9" stroke-linecap="round" fill="none"/>
<path d="M141.5 488.58 L141.5 485.65 M141.5 488.58 L144.29 487.67 M141.5 488.58 L143.22 490.95 M141.5 488.58 L139.78 490.95 M141.5 488.58 L138.71 487.67 " stroke="#231f20" stroke-width="1.9" stroke-linecap="round" fill="none"/>
<path d="M149.95 488.58 L149.95 485.65 M149.95 488.58 L152.74 487.67 M149.95 488.58 L151.67 490.95 M149.95 488.58 L148.23 490.95 M149.95 488.58 L147.16 487.67 " stroke="#231f20" stroke-width="1.9" stroke-linecap="round" fill="none"/>
<path d="M158.4 488.58 L158.4 485.65 M158.4 488.58 L161.19 487.67 M158.4 488.58 L160.12 490.95 M158.4 488.58 L156.68 490.95 M158.4 488.58 L155.61 487.67 " stroke="#231f20" stroke-width="1.9" stroke-linecap="round" fill="none"/>
<line x1="117" y1="500.2" x2="175.6" y2="500.2" stroke="#2b2b2b" stroke-width="1.4"/>
<path d="M240.8 449.38 L240.8 446.45 M240.8 449.38 L243.59 448.47 M240.8 449.38 L242.52 451.75 M240.8 449.38 L239.08 451.75 M240.8 449.38 L238.01 448.47 " stroke="#231f20" stroke-width="1.9" stroke-linecap="round" fill="none"/>
<line x1="213.2" y1="458.4" x2="267.1" y2="458.4" stroke="#2b2b2b" stroke-width="1.4"/>
<path d="M221.7 471.88 L221.7 468.95 M221.7 471.88 L224.49 470.97 M221.7 471.88 L223.42 474.25 M221.7 471.88 L219.98 474.25 M221.7 471.88 L218.91 470.97 " stroke="#231f20" stroke-width="1.9" stroke-linecap="round" fill="none"/>
<path d="M230 471.88 L230 468.95 M230 471.88 L232.79 470.97 M230 471.88 L231.72 474.25 M230 471.88 L228.28 474.25 M230 471.88 L227.21 470.97 " stroke="#231f20" stroke-width="1.9" stroke-linecap="round" fill="none"/>
<path d="M238.3 471.88 L238.3 468.95 M238.3 471.88 L241.09 470.97 M238.3 471.88 L240.02 474.25 M238.3 471.88 L236.58 474.25 M238.3 471.88 L235.51 470.97 " stroke="#231f20" stroke-width="1.9" stroke-linecap="round" fill="none"/>
<line x1="214.2" y1="480.7" x2="245" y2="480.7" stroke="#2b2b2b" stroke-width="1.4"/>
<circle cx="122.4" cy="699.6" r="5.8" fill="#2356a7" stroke="#231f20" stroke-width="1.1"/>
<circle cx="131" cy="706" r="5.8" fill="#2356a7" stroke="#231f20" stroke-width="1.1"/>
<circle cx="114" cy="714" r="5.8" fill="#2356a7" stroke="#231f20" stroke-width="1.1"/>
<circle cx="124" cy="714" r="5.8" fill="#2356a7" stroke="#231f20" stroke-width="1.1"/>
<circle cx="120" cy="718" r="5.8" fill="#2356a7" stroke="#231f20" stroke-width="1.1"/>
<line x1="114.4" y1="711" x2="130.4" y2="711" stroke="#231f20" stroke-width="2.2"/>
<line x1="122.5" y1="707.5" x2="122.5" y2="714.5" stroke="#231f20" stroke-width="1.2"/>
<line x1="119" y1="707.5" x2="126" y2="707.5" stroke="#231f20" stroke-width="1.2"/>
<line x1="119" y1="714.5" x2="126" y2="714.5" stroke="#231f20" stroke-width="1.2"/>
<circle cx="148.6" cy="548.4" r="5.8" fill="#4aaee0" stroke="#231f20" stroke-width="1.1"/>
<circle cx="148.6" cy="568" r="5.8" fill="#4aaee0" stroke="#231f20" stroke-width="1.1"/>
<circle cx="148.6" cy="575" r="5.8" fill="#4aaee0" stroke="#231f20" stroke-width="1.1"/>
<circle cx="148.6" cy="582" r="5.8" fill="#4aaee0" stroke="#231f20" stroke-width="1.1"/>
<circle cx="148.6" cy="643" r="5.8" fill="#4aaee0" stroke="#231f20" stroke-width="1.1"/>
<line x1="140" y1="572.6" x2="157" y2="572.6" stroke="#231f20" stroke-width="2.2"/>
<line x1="148.5" y1="566" x2="148.5" y2="579" stroke="#231f20" stroke-width="1.2"/>
<line x1="144.5" y1="566" x2="152.5" y2="566" stroke="#231f20" stroke-width="1.2"/>
<line x1="144.5" y1="579" x2="152.5" y2="579" stroke="#231f20" stroke-width="1.2"/>
<circle cx="170.6" cy="516" r="5.8" fill="#e72d87" stroke="#231f20" stroke-width="1.1"/>
<circle cx="183.6" cy="512.6" r="5.8" fill="#e72d87" stroke="#231f20" stroke-width="1.1"/>
<circle cx="166" cy="540.4" r="5.8" fill="#e72d87" stroke="#231f20" stroke-width="1.1"/>
<circle cx="179.4" cy="548" r="5.8" fill="#e72d87" stroke="#231f20" stroke-width="1.1"/>
<circle cx="175" cy="580" r="5.8" fill="#e72d87" stroke="#231f20" stroke-width="1.1"/>
<line x1="176.5" y1="527" x2="176.5" y2="552" stroke="#3a3a3a" stroke-width="1.3"/>
<line x1="172.2" y1="527" x2="180.8" y2="527" stroke="#3a3a3a" stroke-width="1.3"/>
<line x1="172.2" y1="552" x2="180.8" y2="552" stroke="#3a3a3a" stroke-width="1.3"/>
<line x1="167" y1="539" x2="183" y2="539" stroke="#231f20" stroke-width="2.4"/>
<circle cx="219.4" cy="689" r="5.8" fill="#2356a7" stroke="#231f20" stroke-width="1.1"/>
<circle cx="228" cy="700.6" r="5.8" fill="#2356a7" stroke="#231f20" stroke-width="1.1"/>
<circle cx="211" cy="708" r="5.8" fill="#2356a7" stroke="#231f20" stroke-width="1.1"/>
<circle cx="221" cy="709" r="5.8" fill="#2356a7" stroke="#231f20" stroke-width="1.1"/>
<circle cx="217" cy="714" r="5.8" fill="#2356a7" stroke="#231f20" stroke-width="1.1"/>
<line x1="211" y1="703.6" x2="228" y2="703.6" stroke="#231f20" stroke-width="2.2"/>
<line x1="219.5" y1="699.6" x2="219.5" y2="707" stroke="#231f20" stroke-width="1.2"/>
<line x1="216" y1="699.6" x2="223" y2="699.6" stroke="#231f20" stroke-width="1.2"/>
<line x1="216" y1="707" x2="223" y2="707" stroke="#231f20" stroke-width="1.2"/>
<circle cx="237" cy="492" r="5.8" fill="#4aaee0" stroke="#231f20" stroke-width="1.1"/>
<circle cx="250" cy="497" r="5.8" fill="#4aaee0" stroke="#231f20" stroke-width="1.1"/>
<circle cx="245.6" cy="549.6" r="5.8" fill="#4aaee0" stroke="#231f20" stroke-width="1.1"/>
<circle cx="245.6" cy="569" r="5.8" fill="#4aaee0" stroke="#231f20" stroke-width="1.1"/>
<circle cx="246" cy="701.4" r="5.8" fill="#4aaee0" stroke="#231f20" stroke-width="1.1"/>
<line x1="245.5" y1="520.4" x2="245.5" y2="563" stroke="#3a3a3a" stroke-width="1.3"/>
<line x1="241.3" y1="520.4" x2="249.7" y2="520.4" stroke="#3a3a3a" stroke-width="1.3"/>
<line x1="241.3" y1="563" x2="249.7" y2="563" stroke="#3a3a3a" stroke-width="1.3"/>
<line x1="237" y1="541.5" x2="254.4" y2="541.5" stroke="#231f20" stroke-width="2.4"/>
<circle cx="267.6" cy="548" r="5.8" fill="#e72d87" stroke="#231f20" stroke-width="1.1"/>
<circle cx="281" cy="543" r="5.8" fill="#e72d87" stroke="#231f20" stroke-width="1.1"/>
<circle cx="263" cy="567" r="5.8" fill="#e72d87" stroke="#231f20" stroke-width="1.1"/>
<circle cx="276.4" cy="573" r="5.8" fill="#e72d87" stroke="#231f20" stroke-width="1.1"/>
<circle cx="272" cy="632" r="5.8" fill="#e72d87" stroke="#231f20" stroke-width="1.1"/>
<line x1="272.5" y1="555.4" x2="272.5" y2="572" stroke="#3a3a3a" stroke-width="1.3"/>
<line x1="268.3" y1="555.4" x2="276.7" y2="555.4" stroke="#3a3a3a" stroke-width="1.3"/>
<line x1="268.3" y1="572" x2="276.7" y2="572" stroke="#3a3a3a" stroke-width="1.3"/>
<line x1="264" y1="564.4" x2="281" y2="564.4" stroke="#231f20" stroke-width="2.4"/>
<circle cx="316" cy="711" r="5.8" fill="#2356a7" stroke="#231f20" stroke-width="1.1"/>
<circle cx="316" cy="720" r="5.8" fill="#2356a7" stroke="#231f20" stroke-width="1.1"/>
<circle cx="316" cy="716" r="5.8" fill="#2356a7" stroke="#231f20" stroke-width="1.1"/>
<line x1="308" y1="717" x2="324.4" y2="717" stroke="#231f20" stroke-width="2.6"/>
<circle cx="342.4" cy="652" r="5.8" fill="#4aaee0" stroke="#231f20" stroke-width="1.1"/>
<circle cx="342.4" cy="661" r="5.8" fill="#4aaee0" stroke="#231f20" stroke-width="1.1"/>
<circle cx="342.4" cy="685" r="5.8" fill="#4aaee0" stroke="#231f20" stroke-width="1.1"/>
<circle cx="342.4" cy="712" r="5.8" fill="#4aaee0" stroke="#231f20" stroke-width="1.1"/>
<line x1="342.5" y1="661" x2="342.5" y2="685" stroke="#3a3a3a" stroke-width="1.3"/>
<line x1="338.5" y1="661" x2="346.5" y2="661" stroke="#3a3a3a" stroke-width="1.3"/>
<line x1="338.5" y1="685" x2="346.5" y2="685" stroke="#3a3a3a" stroke-width="1.3"/>
<line x1="334.4" y1="672.6" x2="351" y2="672.6" stroke="#231f20" stroke-width="2.4"/>
<circle cx="369.6" cy="617.6" r="5.8" fill="#e72d87" stroke="#231f20" stroke-width="1.1"/>
<circle cx="369.6" cy="637.6" r="5.8" fill="#e72d87" stroke="#231f20" stroke-width="1.1"/>
<circle cx="369.4" cy="672.4" r="5.8" fill="#e72d87" stroke="#231f20" stroke-width="1.1"/>
<circle cx="378" cy="711" r="5.8" fill="#e72d87" stroke="#231f20" stroke-width="1.1"/>
<circle cx="364.4" cy="722" r="5.8" fill="#e72d87" stroke="#231f20" stroke-width="1.1"/>
<line x1="369.5" y1="652" x2="369.5" y2="692" stroke="#3a3a3a" stroke-width="1.3"/>
<line x1="365" y1="652" x2="374" y2="652" stroke="#3a3a3a" stroke-width="1.3"/>
<line x1="365" y1="692" x2="374" y2="692" stroke="#3a3a3a" stroke-width="1.3"/>
<line x1="361" y1="672.4" x2="377.6" y2="672.4" stroke="#231f20" stroke-width="2.4"/>
<text x="418" y="427" font-size="26" font-weight="bold" fill="#231f20">e</text>
<text x="626.4" y="434" font-size="19.5" fill="#231f20" textLength="56.6" lengthAdjust="spacingAndGlyphs" >Serum</text>
<line x1="513.5" y1="463.4" x2="513.5" y2="727" stroke="#231f20" stroke-width="2"/>
<line x1="506.3" y1="465.1" x2="513.5" y2="465.1" stroke="#231f20" stroke-width="1.7"/>
<text x="499.2" y="471.3" font-size="17" text-anchor="end" fill="#231f20" >20,000</text>
<line x1="506.3" y1="530.4" x2="513.5" y2="530.4" stroke="#231f20" stroke-width="1.7"/>
<text x="499.2" y="536.6" font-size="17" text-anchor="end" fill="#231f20" >15,000</text>
<line x1="506.3" y1="595.7" x2="513.5" y2="595.7" stroke="#231f20" stroke-width="1.7"/>
<text x="499.2" y="601.9" font-size="17" text-anchor="end" fill="#231f20" >10,000</text>
<line x1="506.3" y1="661" x2="513.5" y2="661" stroke="#231f20" stroke-width="1.7"/>
<text x="499.2" y="667.2" font-size="17" text-anchor="end" fill="#231f20" >5000</text>
<line x1="506.3" y1="726.3" x2="513.5" y2="726.3" stroke="#231f20" stroke-width="1.7"/>
<text x="499.2" y="732.5" font-size="17" text-anchor="end" fill="#231f20" >0</text>
<line x1="557.4" y1="726" x2="557.4" y2="733.6" stroke="#231f20" stroke-width="1.9"/>
<line x1="654" y1="726" x2="654" y2="733.6" stroke="#231f20" stroke-width="1.9"/>
<line x1="750.5" y1="726" x2="750.5" y2="733.6" stroke="#231f20" stroke-width="1.9"/>
<text x="557.7" y="753.8" font-size="17" text-anchor="middle" fill="#231f20" >1.5 h</text>
<text x="654.5" y="753.8" font-size="17" text-anchor="middle" fill="#231f20" >24 h</text>
<text x="751" y="753.8" font-size="17" text-anchor="middle" fill="#231f20" >8 Days</text>
<text x="580" y="778.1" font-size="17" fill="#231f20" textLength="143.4" lengthAdjust="spacingAndGlyphs" >Time post injection</text>
<text transform="translate(432,595.6) rotate(-90)" font-size="17" text-anchor="middle" fill="#231f20" textLength="135" lengthAdjust="spacingAndGlyphs">IL-6 pg/mL serum</text>
<path d="M544.7 479.13 L544.7 476.2 M544.7 479.13 L547.49 478.22 M544.7 479.13 L546.42 481.5 M544.7 479.13 L542.98 481.5 M544.7 479.13 L541.91 478.22 " stroke="#231f20" stroke-width="1.9" stroke-linecap="round" fill="none"/>
<path d="M553.15 479.13 L553.15 476.2 M553.15 479.13 L555.94 478.22 M553.15 479.13 L554.87 481.5 M553.15 479.13 L551.43 481.5 M553.15 479.13 L550.36 478.22 " stroke="#231f20" stroke-width="1.9" stroke-linecap="round" fill="none"/>
<path d="M561.6 479.13 L561.6 476.2 M561.6 479.13 L564.39 478.22 M561.6 479.13 L563.32 481.5 M561.6 479.13 L559.88 481.5 M561.6 479.13 L558.81 478.22 " stroke="#231f20" stroke-width="1.9" stroke-linecap="round" fill="none"/>
<path d="M570.05 479.13 L570.05 476.2 M570.05 479.13 L572.84 478.22 M570.05 479.13 L571.77 481.5 M570.05 479.13 L568.33 481.5 M570.05 479.13 L567.26 478.22 " stroke="#231f20" stroke-width="1.9" stroke-linecap="round" fill="none"/>
<line x1="526" y1="488.9" x2="584.75" y2="488.9" stroke="#2b2b2b" stroke-width="1.4"/>
<path d="M614.95 477.48 L614.95 474.55 M614.95 477.48 L617.74 476.57 M614.95 477.48 L616.67 479.85 M614.95 477.48 L613.23 479.85 M614.95 477.48 L612.16 476.57 " stroke="#231f20" stroke-width="1.9" stroke-linecap="round" fill="none"/>
<path d="M623.32 477.48 L623.32 474.55 M623.32 477.48 L626.1 476.57 M623.32 477.48 L625.04 479.85 M623.32 477.48 L621.59 479.85 M623.32 477.48 L620.53 476.57 " stroke="#231f20" stroke-width="1.9" stroke-linecap="round" fill="none"/>
<path d="M631.68 477.48 L631.68 474.55 M631.68 477.48 L634.47 476.57 M631.68 477.48 L633.41 479.85 M631.68 477.48 L629.96 479.85 M631.68 477.48 L628.9 476.57 " stroke="#231f20" stroke-width="1.9" stroke-linecap="round" fill="none"/>
<path d="M640.05 477.48 L640.05 474.55 M640.05 477.48 L642.84 476.57 M640.05 477.48 L641.77 479.85 M640.05 477.48 L638.33 479.85 M640.05 477.48 L637.26 476.57 " stroke="#231f20" stroke-width="1.9" stroke-linecap="round" fill="none"/>
<line x1="589.4" y1="488.3" x2="666.9" y2="488.3" stroke="#2b2b2b" stroke-width="1.4"/>
<path d="M527.2 609.13 L527.2 606.2 M527.2 609.13 L529.99 608.22 M527.2 609.13 L528.92 611.5 M527.2 609.13 L525.48 611.5 M527.2 609.13 L524.41 608.22 " stroke="#231f20" stroke-width="1.9" stroke-linecap="round" fill="none"/>
<path d="M535.43 609.13 L535.43 606.2 M535.43 609.13 L538.22 608.22 M535.43 609.13 L537.16 611.5 M535.43 609.13 L533.71 611.5 M535.43 609.13 L532.65 608.22 " stroke="#231f20" stroke-width="1.9" stroke-linecap="round" fill="none"/>
<path d="M543.67 609.13 L543.67 606.2 M543.67 609.13 L546.45 608.22 M543.67 609.13 L545.39 611.5 M543.67 609.13 L541.94 611.5 M543.67 609.13 L540.88 608.22 " stroke="#231f20" stroke-width="1.9" stroke-linecap="round" fill="none"/>
<path d="M551.9 609.13 L551.9 606.2 M551.9 609.13 L554.69 608.22 M551.9 609.13 L553.62 611.5 M551.9 609.13 L550.18 611.5 M551.9 609.13 L549.11 608.22 " stroke="#231f20" stroke-width="1.9" stroke-linecap="round" fill="none"/>
<line x1="527" y1="616.9" x2="552.9" y2="616.9" stroke="#2b2b2b" stroke-width="1.4"/>
<path d="M590.45 609.13 L590.45 606.2 M590.45 609.13 L593.24 608.22 M590.45 609.13 L592.17 611.5 M590.45 609.13 L588.73 611.5 M590.45 609.13 L587.66 608.22 " stroke="#231f20" stroke-width="1.9" stroke-linecap="round" fill="none"/>
<path d="M598.8 609.13 L598.8 606.2 M598.8 609.13 L601.59 608.22 M598.8 609.13 L600.52 611.5 M598.8 609.13 L597.08 611.5 M598.8 609.13 L596.01 608.22 " stroke="#231f20" stroke-width="1.9" stroke-linecap="round" fill="none"/>
<path d="M607.15 609.13 L607.15 606.2 M607.15 609.13 L609.94 608.22 M607.15 609.13 L608.87 611.5 M607.15 609.13 L605.43 611.5 M607.15 609.13 L604.36 608.22 " stroke="#231f20" stroke-width="1.9" stroke-linecap="round" fill="none"/>
<path d="M615.5 609.13 L615.5 606.2 M615.5 609.13 L618.29 608.22 M615.5 609.13 L617.22 611.5 M615.5 609.13 L613.78 611.5 M615.5 609.13 L612.71 608.22 " stroke="#231f20" stroke-width="1.9" stroke-linecap="round" fill="none"/>
<line x1="558.3" y1="617.5" x2="649.3" y2="617.5" stroke="#2b2b2b" stroke-width="1.4"/>
<circle cx="685" cy="469.4" r="6.2" fill="#2356a7" stroke="#231f20" stroke-width="1.1"/>
<text x="698.4" y="474" font-size="15" fill="#2356a7" textLength="40.2" lengthAdjust="spacingAndGlyphs" >Saline</text>
<circle cx="685" cy="495.3" r="6.2" fill="#4aaee0" stroke="#231f20" stroke-width="1.1"/>
<text x="699" y="499.4" font-size="15" fill="#4aaee0" textLength="73.7" lengthAdjust="spacingAndGlyphs">1 × 10<tspan dy="-7" font-size="10.5">6</tspan><tspan dy="7" font-style="italic">Ec</tspan>N</text>
<circle cx="685" cy="524.2" r="6.2" fill="#e72d87" stroke="#231f20" stroke-width="1.1"/>
<text x="699" y="528.4" font-size="15" fill="#e72d87" textLength="73.7" lengthAdjust="spacingAndGlyphs">1 × 10<tspan dy="-7" font-size="10.5">7</tspan><tspan dy="7" font-style="italic">Ec</tspan>N</text>
<circle cx="531" cy="726.8" r="6.1" fill="#2356a7" stroke="#231f20" stroke-width="1.7"/>
<circle cx="557.5" cy="632.5" r="5.8" fill="#4aaee0" stroke="#231f20" stroke-width="1.1"/>
<circle cx="557.5" cy="676.7" r="5.8" fill="#4aaee0" stroke="#231f20" stroke-width="1.1"/>
<circle cx="556.8" cy="679" r="5.8" fill="#4aaee0" stroke="#231f20" stroke-width="1.1"/>
<circle cx="557.5" cy="680.3" r="5.8" fill="#4aaee0" stroke="#231f20" stroke-width="1.1"/>
<circle cx="557.5" cy="693.8" r="5.8" fill="#4aaee0" stroke="#231f20" stroke-width="1.1"/>
<line x1="557.5" y1="661.9" x2="557.5" y2="682.3" stroke="#231f20" stroke-width="1.3"/>
<line x1="553.05" y1="661.9" x2="561.95" y2="661.9" stroke="#231f20" stroke-width="1.3"/>
<line x1="553.05" y1="682.3" x2="561.95" y2="682.3" stroke="#231f20" stroke-width="1.3"/>
<line x1="549.1" y1="672.3" x2="565.9" y2="672.3" stroke="#231f20" stroke-width="2.4"/>
<circle cx="583.4" cy="498.4" r="5.8" fill="#e72d87" stroke="#231f20" stroke-width="1.1"/>
<circle cx="574.6" cy="517" r="5.8" fill="#e72d87" stroke="#231f20" stroke-width="1.1"/>
<circle cx="588.2" cy="529.6" r="5.8" fill="#e72d87" stroke="#231f20" stroke-width="1.1"/>
<circle cx="579.4" cy="573.6" r="5.8" fill="#e72d87" stroke="#231f20" stroke-width="1.1"/>
<circle cx="592.4" cy="573.6" r="5.8" fill="#e72d87" stroke="#231f20" stroke-width="1.1"/>
<line x1="583.5" y1="523.4" x2="583.5" y2="553.8" stroke="#333" stroke-width="1.3"/>
<line x1="579" y1="523.4" x2="588" y2="523.4" stroke="#333" stroke-width="1.3"/>
<line x1="579" y1="553.8" x2="588" y2="553.8" stroke="#333" stroke-width="1.3"/>
<line x1="575.4" y1="538" x2="592.6" y2="538" stroke="#231f20" stroke-width="2.4"/>
<circle cx="627.5" cy="726.6" r="6.1" fill="#2356a7" stroke="#231f20" stroke-width="1.6"/>
<circle cx="628.7" cy="726.6" r="6.1" fill="#2356a7" stroke="#231f20" stroke-width="1.6"/>
<circle cx="654" cy="721.5" r="5.8" fill="#4aaee0" stroke="#231f20" stroke-width="1.1"/>
<circle cx="652.8" cy="723.5" r="5.8" fill="#4aaee0" stroke="#231f20" stroke-width="1.1"/>
<circle cx="655.2" cy="725.5" r="5.8" fill="#4aaee0" stroke="#231f20" stroke-width="1.1"/>
<circle cx="654" cy="727" r="5.8" fill="#4aaee0" stroke="#231f20" stroke-width="1.1"/>
<line x1="645.8" y1="723.9" x2="663" y2="723.9" stroke="#231f20" stroke-width="2.2"/>
<circle cx="679.5" cy="719.6" r="5.8" fill="#e72d87" stroke="#231f20" stroke-width="1.1"/>
<circle cx="681" cy="721.5" r="5.8" fill="#e72d87" stroke="#231f20" stroke-width="1.1"/>
<circle cx="680" cy="723.5" r="5.8" fill="#e72d87" stroke="#231f20" stroke-width="1.1"/>
<circle cx="680" cy="725.6" r="5.8" fill="#e72d87" stroke="#231f20" stroke-width="1.1"/>
<line x1="672.3" y1="723.9" x2="689.7" y2="723.9" stroke="#231f20" stroke-width="2.2"/>
<circle cx="724.2" cy="726.6" r="6.1" fill="#2356a7" stroke="#231f20" stroke-width="1.6"/>
<circle cx="725.2" cy="726.6" r="6.1" fill="#2356a7" stroke="#231f20" stroke-width="1.6"/>
<circle cx="751.4" cy="725.3" r="5.8" fill="#4aaee0" stroke="#231f20" stroke-width="1.5"/>
<circle cx="751" cy="727" r="5.8" fill="#4aaee0" stroke="#231f20" stroke-width="1.5"/>
<line x1="744.4" y1="725.4" x2="759" y2="725.4" stroke="#231f20" stroke-width="2.2"/>
<circle cx="777.6" cy="723" r="5.8" fill="#e72d87" stroke="#231f20" stroke-width="1.1"/>
<circle cx="777" cy="724.5" r="5.8" fill="#e72d87" stroke="#231f20" stroke-width="1.1"/>
<circle cx="777.6" cy="726.4" r="5.8" fill="#e72d87" stroke="#231f20" stroke-width="1.1"/>
<line x1="769.9" y1="724.6" x2="786" y2="724.6" stroke="#231f20" stroke-width="2.2"/>
<line x1="507" y1="726.8" x2="795" y2="726.8" stroke="#231f20" stroke-width="2"/>
<text x="824.5" y="426.6" font-size="26" font-weight="bold" fill="#231f20">f</text>
<line x1="920" y1="463" x2="920" y2="727.6" stroke="#231f20" stroke-width="2"/>
<line x1="918.6" y1="726.6" x2="1193.4" y2="726.6" stroke="#231f20" stroke-width="2.1"/>
<line x1="913.2" y1="719.3" x2="920" y2="719.3" stroke="#231f20" stroke-width="1.6"/>
<text x="905" y="725.3" font-size="17" text-anchor="end" fill="#231f20" >0</text>
<line x1="913.2" y1="682.8" x2="920" y2="682.8" stroke="#231f20" stroke-width="1.6"/>
<text x="905" y="688.8" font-size="17" text-anchor="end" fill="#231f20" >500</text>
<line x1="913.2" y1="646.3" x2="920" y2="646.3" stroke="#231f20" stroke-width="1.6"/>
<text x="905" y="652.3" font-size="17" text-anchor="end" fill="#231f20" >1000</text>
<line x1="913.2" y1="609.8" x2="920" y2="609.8" stroke="#231f20" stroke-width="1.6"/>
<text x="905" y="615.8" font-size="17" text-anchor="end" fill="#231f20" >1500</text>
<line x1="913.2" y1="573.3" x2="920" y2="573.3" stroke="#231f20" stroke-width="1.6"/>
<text x="905" y="579.3" font-size="17" text-anchor="end" fill="#231f20" >2000</text>
<line x1="913.2" y1="536.8" x2="920" y2="536.8" stroke="#231f20" stroke-width="1.6"/>
<text x="905" y="542.8" font-size="17" text-anchor="end" fill="#231f20" >2500</text>
<line x1="913.2" y1="500.3" x2="920" y2="500.3" stroke="#231f20" stroke-width="1.6"/>
<text x="905" y="506.3" font-size="17" text-anchor="end" fill="#231f20" >3000</text>
<line x1="913.2" y1="463.8" x2="920" y2="463.8" stroke="#231f20" stroke-width="1.6"/>
<text x="905" y="469.8" font-size="17" text-anchor="end" fill="#231f20" >3500</text>
<line x1="920" y1="726.5" x2="920" y2="733.5" stroke="#231f20" stroke-width="1.9"/>
<text x="920.6" y="753.2" font-size="17" text-anchor="middle" fill="#231f20" >0</text>
<line x1="958.88" y1="726.5" x2="958.88" y2="733.5" stroke="#231f20" stroke-width="1.9"/>
<text x="959.48" y="753.2" font-size="17" text-anchor="middle" fill="#231f20" >3</text>
<line x1="997.76" y1="726.5" x2="997.76" y2="733.5" stroke="#231f20" stroke-width="1.9"/>
<text x="998.36" y="753.2" font-size="17" text-anchor="middle" fill="#231f20" >6</text>
<line x1="1036.64" y1="726.5" x2="1036.64" y2="733.5" stroke="#231f20" stroke-width="1.9"/>
<text x="1037.24" y="753.2" font-size="17" text-anchor="middle" fill="#231f20" >9</text>
<line x1="1075.52" y1="726.5" x2="1075.52" y2="733.5" stroke="#231f20" stroke-width="1.9"/>
<text x="1076.12" y="753.2" font-size="17" text-anchor="middle" fill="#231f20" >12</text>
<line x1="1114.4" y1="726.5" x2="1114.4" y2="733.5" stroke="#231f20" stroke-width="1.9"/>
<text x="1115" y="753.2" font-size="17" text-anchor="middle" fill="#231f20" >15</text>
<line x1="1153.28" y1="726.5" x2="1153.28" y2="733.5" stroke="#231f20" stroke-width="1.9"/>
<text x="1153.88" y="753.2" font-size="17" text-anchor="middle" fill="#231f20" >18</text>
<line x1="1192.16" y1="726.5" x2="1192.16" y2="733.5" stroke="#231f20" stroke-width="1.9"/>
<text x="1192.76" y="753.2" font-size="17" text-anchor="middle" fill="#231f20" >21</text>
<text x="1056" y="777.6" font-size="17" text-anchor="middle" fill="#231f20" >Study day</text>
<text transform="translate(847.6,596.2) rotate(-90)" font-size="17" text-anchor="middle" fill="#231f20" textLength="162.7" lengthAdjust="spacingAndGlyphs">Tumor volume (mm<tspan dy="-6" font-size="12">3</tspan><tspan dy="6">)</tspan></text>
<circle cx="934" cy="502.5" r="6.2" fill="#2356a7" stroke="#231f20" stroke-width="1.1"/>
<text x="947.6" y="507" font-size="15" fill="#2356a7" textLength="40" lengthAdjust="spacingAndGlyphs" >Saline</text>
<circle cx="934" cy="529.6" r="6.2" fill="#4aaee0" stroke="#231f20" stroke-width="1.1"/>
<text x="948.4" y="534.4" font-size="15" fill="#4aaee0"><tspan font-style="italic">Ec</tspan>N</text>
<line x1="1023.5" y1="663" x2="1023.5" y2="682.4" stroke="#3a3a3a" stroke-width="1.3"/>
<line x1="1017.5" y1="663" x2="1029.5" y2="663" stroke="#3a3a3a" stroke-width="1.3"/>
<line x1="1017.5" y1="682.4" x2="1029.5" y2="682.4" stroke="#3a3a3a" stroke-width="1.3"/>
<line x1="1075.5" y1="580.6" x2="1075.5" y2="630.6" stroke="#3a3a3a" stroke-width="1.3"/>
<line x1="1069.5" y1="580.6" x2="1081.5" y2="580.6" stroke="#3a3a3a" stroke-width="1.3"/>
<line x1="1069.5" y1="630.6" x2="1081.5" y2="630.6" stroke="#3a3a3a" stroke-width="1.3"/>
<line x1="1114.5" y1="535.6" x2="1114.5" y2="602.4" stroke="#3a3a3a" stroke-width="1.3"/>
<line x1="1108.5" y1="535.6" x2="1120.5" y2="535.6" stroke="#3a3a3a" stroke-width="1.3"/>
<line x1="1108.5" y1="602.4" x2="1120.5" y2="602.4" stroke="#3a3a3a" stroke-width="1.3"/>
<line x1="1166.5" y1="494.4" x2="1166.5" y2="572" stroke="#3a3a3a" stroke-width="1.3"/>
<line x1="1160.5" y1="494.4" x2="1172.5" y2="494.4" stroke="#3a3a3a" stroke-width="1.3"/>
<line x1="1160.5" y1="572" x2="1172.5" y2="572" stroke="#3a3a3a" stroke-width="1.3"/>
<line x1="1023.5" y1="689" x2="1023.5" y2="704" stroke="#3a3a3a" stroke-width="1.3"/>
<line x1="1017.5" y1="689" x2="1029.5" y2="689" stroke="#3a3a3a" stroke-width="1.3"/>
<line x1="1017.5" y1="704" x2="1029.5" y2="704" stroke="#3a3a3a" stroke-width="1.3"/>
<line x1="1075.5" y1="668.4" x2="1075.5" y2="696.4" stroke="#3a3a3a" stroke-width="1.3"/>
<line x1="1069.5" y1="668.4" x2="1081.5" y2="668.4" stroke="#3a3a3a" stroke-width="1.3"/>
<line x1="1069.5" y1="696.4" x2="1081.5" y2="696.4" stroke="#3a3a3a" stroke-width="1.3"/>
<line x1="1114.5" y1="625.6" x2="1114.5" y2="686.4" stroke="#3a3a3a" stroke-width="1.3"/>
<line x1="1108.5" y1="625.6" x2="1120.5" y2="625.6" stroke="#3a3a3a" stroke-width="1.3"/>
<line x1="1108.5" y1="686.4" x2="1120.5" y2="686.4" stroke="#3a3a3a" stroke-width="1.3"/>
<line x1="1166.5" y1="655" x2="1166.5" y2="677.4" stroke="#3a3a3a" stroke-width="1.3"/>
<line x1="1160.5" y1="655" x2="1172.5" y2="655" stroke="#3a3a3a" stroke-width="1.3"/>
<line x1="1160.5" y1="677.4" x2="1172.5" y2="677.4" stroke="#3a3a3a" stroke-width="1.3"/>
<polyline points="932.8,715.6 984.4,707.6 1023.7,697 1075.4,682.5 1114,656.5 1166,667" fill="none" stroke="#4aaee0" stroke-width="2.6"/>
<polyline points="932.8,715.6 984.4,703.4 1023.7,673 1075.4,606.2 1114,569.4 1166,533.6" fill="none" stroke="#2356a7" stroke-width="2.6"/>
<circle cx="984.4" cy="707.6" r="6.1" fill="#4aaee0" stroke="#231f20" stroke-width="1.1"/>
<circle cx="1023.7" cy="697" r="6.1" fill="#4aaee0" stroke="#231f20" stroke-width="1.1"/>
<circle cx="1075.4" cy="682.5" r="6.1" fill="#4aaee0" stroke="#231f20" stroke-width="1.1"/>
<circle cx="1114" cy="656.5" r="6.1" fill="#4aaee0" stroke="#231f20" stroke-width="1.1"/>
<circle cx="1166" cy="667" r="6.1" fill="#4aaee0" stroke="#231f20" stroke-width="1.1"/>
<circle cx="932.8" cy="715.6" r="6.1" fill="#2356a7" stroke="#231f20" stroke-width="1.1"/>
<circle cx="984.4" cy="703.4" r="6.1" fill="#2356a7" stroke="#231f20" stroke-width="1.1"/>
<circle cx="1023.7" cy="673" r="6.1" fill="#2356a7" stroke="#231f20" stroke-width="1.1"/>
<circle cx="1075.4" cy="606.2" r="6.1" fill="#2356a7" stroke="#231f20" stroke-width="1.1"/>
<circle cx="1114" cy="569.4" r="6.1" fill="#2356a7" stroke="#231f20" stroke-width="1.1"/>
<circle cx="1166" cy="533.6" r="6.1" fill="#2356a7" stroke="#231f20" stroke-width="1.1"/>
<path d="M1161.1 466.72 L1161.1 462.8 M1161.1 466.72 L1164.83 465.51 M1161.1 466.72 L1163.41 469.9 M1161.1 466.72 L1158.79 469.9 M1161.1 466.72 L1157.37 465.51 " stroke="#231f20" stroke-width="1.8" stroke-linecap="round" fill="none"/>
<path d="M1172.3 466.72 L1172.3 462.8 M1172.3 466.72 L1176.03 465.51 M1172.3 466.72 L1174.61 469.9 M1172.3 466.72 L1169.99 469.9 M1172.3 466.72 L1168.57 465.51 " stroke="#231f20" stroke-width="1.8" stroke-linecap="round" fill="none"/>
<text x="982.4" y="389" font-size="16.5" fill="#231f20" textLength="160.6" lengthAdjust="spacingAndGlyphs">Bacteria,1×10<tspan dy="-7" font-size="12">7</tspan><tspan dy="7"> CFUs</tspan></text>
<text x="926.4" y="453.2" font-size="17" fill="#231f20" textLength="99.2" lengthAdjust="spacingAndGlyphs" >CT26 tumors</text>
<path d="M1010 421.3 L1159 421.5 L1157 418.3 L1174.5 423.3 L1157 428.2 L1159 425.2 L1010 425.4 Z" fill="#5b6064"/>
<rect x="994.4" y="415.4" width="20.6" height="15" fill="#fff" stroke="#3a3a3a" stroke-width="1"/>
<text x="1004.7" y="427.6" font-size="12.5" text-anchor="middle" fill="#231f20" >D1</text>
<rect x="1034" y="415.4" width="20" height="15" fill="#fff" stroke="#3a3a3a" stroke-width="1"/>
<text x="1044" y="427.6" font-size="12.5" text-anchor="middle" fill="#231f20" >D4</text>
<rect x="1073" y="415.4" width="20" height="15" fill="#fff" stroke="#3a3a3a" stroke-width="1"/>
<text x="1083" y="427.6" font-size="12.5" text-anchor="middle" fill="#231f20" >D7</text>
<line x1="1004.6" y1="395.6" x2="1004.6" y2="410" stroke="#d2232a" stroke-width="1.2"/>
<path d="M1002.2 409 L1007 409 L1004.6 414.2 Z" fill="#d2232a"/>
<line x1="1044" y1="395.6" x2="1044" y2="410" stroke="#d2232a" stroke-width="1.2"/>
<path d="M1041.6 409 L1046.4 409 L1044 414.2 Z" fill="#d2232a"/>
<line x1="1083" y1="395.6" x2="1083" y2="410" stroke="#d2232a" stroke-width="1.2"/>
<path d="M1080.6 409 L1085.4 409 L1083 414.2 Z" fill="#d2232a"/>
<path d="M946.3 421 C945.5 413 950.5 406.5 958 405.8 C963 405.4 968 406.5 971.5 405.8 C973.5 404.5 975.5 401.5 976.8 401.1 C977.8 402 978 404.5 977.6 406 C980 407.5 984.5 410.5 986.8 413.2 C987.3 414.5 986 416 983 416.7 C980 417.3 977.5 418.5 975.5 420.5 C975 422.5 975.5 424.3 977 425.5 C977.8 426.2 977.5 427 976.5 426.8 C975.5 426.6 974 425 973 424.5 C973.5 426.5 975.5 429 977.5 430.3 C978 431.3 977 431.8 975.5 431.5 C973 430.8 971.2 428 970 425.5 C967.5 424.5 963 424.5 960 426 C960.5 428 962 430 963 431.5 C962.5 432.6 960.5 432.6 959 431.9 C956 430.5 953 428.5 950.5 427 C948 425.5 946.5 423.5 946.3 421 Z" fill="#231f20"/>
<path d="M947 418.6 C944.5 417.6 942.5 419 942.6 421 C942.8 423.5 946.5 425 948 426.5 C949.5 428.5 948 430.8 945 431.2 C943 431.5 941 431.3 939.6 431.2" fill="none" stroke="#231f20" stroke-width="1.15"/>
<ellipse cx="980.6" cy="412" rx="0.6" ry="0.9" fill="#fff"/>
</svg></body></html>
